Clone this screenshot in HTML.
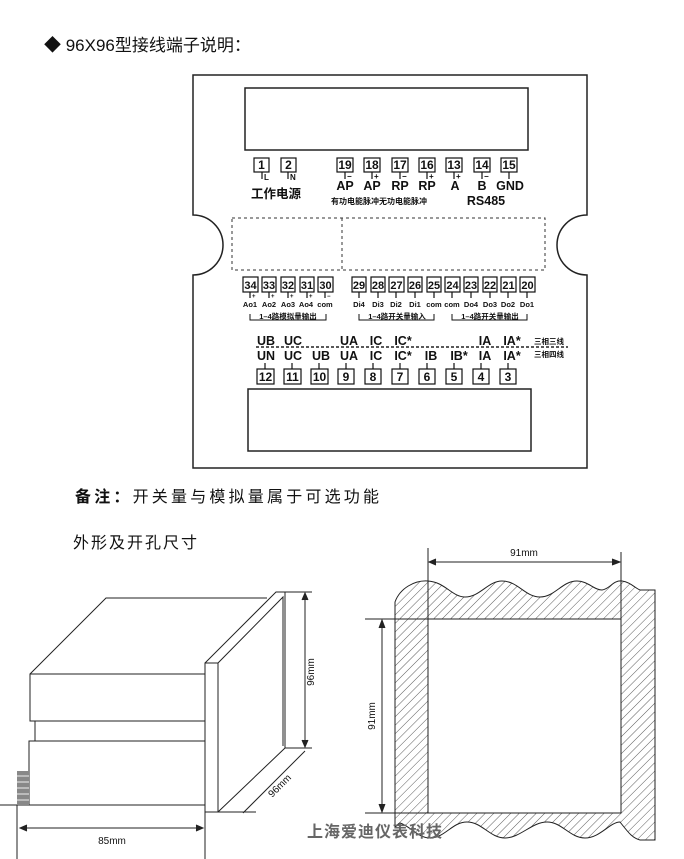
<!DOCTYPE html>
<html><head><meta charset="utf-8"><style>
html,body{margin:0;padding:0;background:#fff;}
svg{display:block;}
text{font-family:"Liberation Sans","Noto Sans CJK SC",sans-serif;fill:#111;}
.b{font-weight:bold;}
</style></head><body>
<svg width="684" height="859" viewBox="0 0 684 859" xmlns="http://www.w3.org/2000/svg">
<defs>
<pattern id="h" width="6" height="6" patternUnits="userSpaceOnUse" patternTransform="rotate(45)">
<line x1="0" y1="0" x2="0" y2="6" stroke="#333" stroke-width="0.8"/>
</pattern>
</defs>
<text x="44" y="51" font-size="17">◆ 96X96型接线端子说明：</text>

<!-- panel -->
<path d="M193,75 H587 V215 A30,30 0 0 0 587,275 V468 H193 V275 A30,30 0 0 0 193,215 Z" fill="none" stroke="#222" stroke-width="1.5"/>
<rect x="245" y="88" width="283" height="62" fill="none" stroke="#222" stroke-width="1.5"/>
<rect x="248" y="389" width="283" height="62" fill="none" stroke="#222" stroke-width="1.5"/>
<g fill="none" stroke="#333" stroke-width="1" stroke-dasharray="3,3">
<rect x="232" y="218" width="313" height="52"/>
<line x1="342" y1="218" x2="342" y2="270"/>
</g>

<g stroke="#111" stroke-width="1.2" fill="none">
<rect x="254" y="158" width="15" height="14"/><rect x="281" y="158" width="15" height="14"/>
<rect x="337" y="158" width="16" height="14"/><rect x="364" y="158" width="16" height="14"/>
<rect x="392" y="158" width="16" height="14"/><rect x="419" y="158" width="16" height="14"/>
<rect x="446" y="158" width="16" height="14"/><rect x="474" y="158" width="16" height="14"/>
<rect x="501" y="158" width="16" height="14"/>
<path d="M262,172v7M288,172v7M345,172v7M372,172v7M400,172v7M427,172v7M454,172v7M482,172v7M509,172v7"/>
</g>
<g font-size="12" class="b" text-anchor="middle">
<text x="261.5" y="169" class="b">1</text><text x="288.5" y="169" class="b">2</text>
<text x="345" y="169" class="b">19</text><text x="372" y="169" class="b">18</text>
<text x="400" y="169" class="b">17</text><text x="427" y="169" class="b">16</text>
<text x="454" y="169" class="b">13</text><text x="482" y="169" class="b">14</text>
<text x="509" y="169" class="b">15</text>
</g>
<g font-size="8" class="b">
<text x="264" y="180">L</text><text x="290" y="180">N</text>
<text x="347" y="179">−</text><text x="374" y="179">+</text><text x="402" y="179">−</text>
<text x="429" y="179">+</text><text x="456" y="179">+</text><text x="484" y="179">−</text>
</g>
<g font-size="12.5" class="b" text-anchor="middle">
<text x="345" y="190" class="b">AP</text><text x="372" y="190" class="b">AP</text>
<text x="400" y="190" class="b">RP</text><text x="427" y="190" class="b">RP</text>
<text x="455" y="190" class="b">A</text><text x="482" y="190" class="b">B</text>
<text x="510" y="190" class="b">GND</text>
<text x="276" y="198" class="b">工作电源</text>
<text x="486" y="205" class="b">RS485</text>
</g>
<text x="331" y="204" font-size="8" class="b">有功电能脉冲无功电能脉冲</text>

<!-- row 2 -->
<g stroke="#111" stroke-width="1.2" fill="none">
<rect x="243" y="277" width="15" height="15"/><rect x="262" y="277" width="14" height="15"/>
<rect x="281" y="277" width="14" height="15"/><rect x="300" y="277" width="14" height="15"/>
<rect x="318" y="277" width="15" height="15"/>
<rect x="352" y="277" width="14" height="15"/><rect x="371" y="277" width="14" height="15"/>
<rect x="389" y="277" width="15" height="15"/><rect x="408" y="277" width="14" height="15"/>
<rect x="427" y="277" width="14" height="15"/><rect x="445" y="277" width="15" height="15"/>
<rect x="464" y="277" width="14" height="15"/><rect x="483" y="277" width="14" height="15"/>
<rect x="501" y="277" width="15" height="15"/><rect x="520" y="277" width="15" height="15"/>
<path d="M250,292v6M269,292v6M288,292v6M307,292v6M325,292v6M359,292v6M378,292v6M396,292v6M415,292v6M434,292v6M452,292v6M471,292v6M490,292v6M508,292v6M527,292v6"/>
<path d="M250,314v6H326v-6M359,314v6H434v-6M452,314v6H527v-6" stroke-width="1"/>
</g>
<g font-size="11" class="b" text-anchor="middle">
<text x="250.5" y="289" class="b">34</text><text x="269" y="289" class="b">33</text><text x="288" y="289" class="b">32</text><text x="307" y="289" class="b">31</text><text x="325.5" y="289" class="b">30</text>
<text x="359" y="289" class="b">29</text><text x="378" y="289" class="b">28</text><text x="396.5" y="289" class="b">27</text><text x="415" y="289" class="b">26</text><text x="434" y="289" class="b">25</text>
<text x="452.5" y="289" class="b">24</text><text x="471" y="289" class="b">23</text><text x="490" y="289" class="b">22</text><text x="508.5" y="289" class="b">21</text><text x="527.5" y="289" class="b">20</text>
</g>
<g font-size="6" class="b"><text x="252" y="298">+</text><text x="271" y="298">+</text><text x="290" y="298">+</text><text x="309" y="298">+</text><text x="327" y="298">−</text></g>
<g font-size="7.5" class="b" text-anchor="middle">
<text x="250" y="307" class="b">Ao1</text><text x="269" y="307" class="b">Ao2</text><text x="288" y="307" class="b">Ao3</text><text x="306" y="307" class="b">Ao4</text><text x="325" y="307" class="b">com</text>
<text x="359" y="307" class="b">Di4</text><text x="378" y="307" class="b">Di3</text><text x="396" y="307" class="b">Di2</text><text x="415" y="307" class="b">Di1</text><text x="434" y="307" class="b">com</text>
<text x="452" y="307" class="b">com</text><text x="471" y="307" class="b">Do4</text><text x="490" y="307" class="b">Do3</text><text x="508" y="307" class="b">Do2</text><text x="527" y="307" class="b">Do1</text>
<text x="288" y="319" class="b">1–4路模拟量输出</text>
<text x="397" y="319" class="b">1–4路开关量输入</text>
<text x="490" y="319" class="b">1–4路开关量输出</text>
</g>

<!-- row 3 -->
<line x1="256" y1="347" x2="568" y2="347" stroke="#222" stroke-width="1.5" stroke-dasharray="3,2"/>
<g font-size="12.5" class="b" text-anchor="middle">
<text x="266" y="345" class="b">UB</text><text x="293" y="345" class="b">UC</text><text x="349" y="345" class="b">UA</text><text x="376" y="345" class="b">IC</text><text x="403" y="345" class="b">IC*</text><text x="485" y="345" class="b">IA</text><text x="512" y="345" class="b">IA*</text>
<text x="266" y="360" class="b">UN</text><text x="293" y="360" class="b">UC</text><text x="321" y="360" class="b">UB</text><text x="349" y="360" class="b">UA</text><text x="376" y="360" class="b">IC</text><text x="403" y="360" class="b">IC*</text><text x="431" y="360" class="b">IB</text><text x="459" y="360" class="b">IB*</text><text x="485" y="360" class="b">IA</text><text x="512" y="360" class="b">IA*</text>
</g>
<g font-size="7.5" class="b"><text x="534" y="344" class="b">三相三线</text><text x="534" y="357" class="b">三相四线</text></g>
<g stroke="#111" stroke-width="1.2" fill="none">
<rect x="257" y="369" width="17" height="15"/><rect x="284" y="369" width="17" height="15"/><rect x="311" y="369" width="17" height="15"/>
<rect x="338" y="369" width="16" height="15"/><rect x="365" y="369" width="16" height="15"/><rect x="392" y="369" width="16" height="15"/>
<rect x="419" y="369" width="16" height="15"/><rect x="446" y="369" width="16" height="15"/><rect x="473" y="369" width="16" height="15"/><rect x="500" y="369" width="16" height="15"/>
<path d="M265,363v6M292,363v6M319,363v6M346,363v6M373,363v6M400,363v6M427,363v6M454,363v6M481,363v6M508,363v6"/>
</g>
<g font-size="12" class="b" text-anchor="middle">
<text x="265.5" y="381" class="b">12</text><text x="292.5" y="381" class="b">11</text><text x="319.5" y="381" class="b">10</text><text x="346" y="381" class="b">9</text><text x="373" y="381" class="b">8</text><text x="400" y="381" class="b">7</text><text x="427" y="381" class="b">6</text><text x="454" y="381" class="b">5</text><text x="481" y="381" class="b">4</text><text x="508" y="381" class="b">3</text>
</g>

<text x="75" y="502" font-size="16" letter-spacing="3.2"><tspan class="b">备注：</tspan>开关量与模拟量属于可选功能</text>
<text x="73" y="548" font-size="16" letter-spacing="2">外形及开孔尺寸</text>

<!-- left drawing -->
<g fill="none" stroke="#222" stroke-width="1">
<path d="M30,674 L106,598 H267"/>
<rect x="30" y="674" width="175" height="47"/>
<line x1="35" y1="721" x2="35" y2="741"/>
<rect x="29" y="741" width="176" height="64"/>
<rect x="205" y="663" width="13" height="149"/>
<path d="M205,663 L276,592 H285 V748 L218,812"/>
<path d="M218,663 L283,597 V746"/>
<path d="M285,592 H312 M285,748 H312"/>
<path d="M305,593 V747" /><path d="M302,600 L305,593 L308,600 M302,740 L305,747 L308,740" fill="#222"/>
<path d="M218,812 H256"/>
<path d="M305,751 L243,813"/>
<path d="M0,805 H205"/>
<path d="M17,805 V859 M205,812 V859"/>
<path d="M20,828 H203"/><path d="M27,825 L20,828 L27,831 M196,825 L203,828 L196,831" fill="#222"/>
</g>
<g fill="#888"><rect x="17" y="771" width="12" height="34"/></g>
<g stroke="#eee" stroke-width="1"><path d="M17,776h12M17,782h12M17,788h12M17,794h12M17,800h12"/></g>
<text x="314" y="672" font-size="10" transform="rotate(-90 314 672)" text-anchor="middle">96mm</text>
<text x="282" y="788" font-size="10" transform="rotate(-45 282 788)" text-anchor="middle">96mm</text>
<text x="112" y="844" font-size="10" text-anchor="middle">85mm</text>

<!-- right drawing -->
<path fill-rule="evenodd" fill="url(#h)" stroke="#222" stroke-width="1" d="M395,602 C400,588 415,580 428,581 C445,582 452,597 465,597 C480,597 488,581 502,581 C518,581 525,597 540,597 C555,597 562,581 577,581 C588,581 594,590 602,590 C610,589 613,580 622,581 C630,582 635,588 640,590 H655 V840 H640 C632,838 628,832 620,822 C610,822 600,838 585,838 C570,838 562,822 547,822 C532,822 520,838 505,838 C490,838 482,822 467,822 C452,822 445,838 430,838 C418,838 410,826 400,823 C398,824 396,826 395,828 Z M428,619 V813 H621 V619 Z"/>
<g fill="none" stroke="#222" stroke-width="1">
<path d="M428,548 V619 M621,552 V619"/>
<path d="M430,562 H619"/><path d="M436,559 L429,562 L436,565 M612,559 L620,562 L612,565" fill="#222"/>
<path d="M365,619 H428 M365,813 H428"/>
<path d="M382,621 V811"/><path d="M379,628 L382,620 L385,628 M379,804 L382,812 L385,804" fill="#222"/>
</g>
<text x="524" y="556" font-size="10" text-anchor="middle">91mm</text>
<text x="375" y="716" font-size="10" transform="rotate(-90 375 716)" text-anchor="middle">91mm</text>
<text x="375" y="837" font-size="16" class="b" text-anchor="middle" style="fill:#666" letter-spacing="1">上海爱迪仪表科技</text>
</svg>
</body></html>
